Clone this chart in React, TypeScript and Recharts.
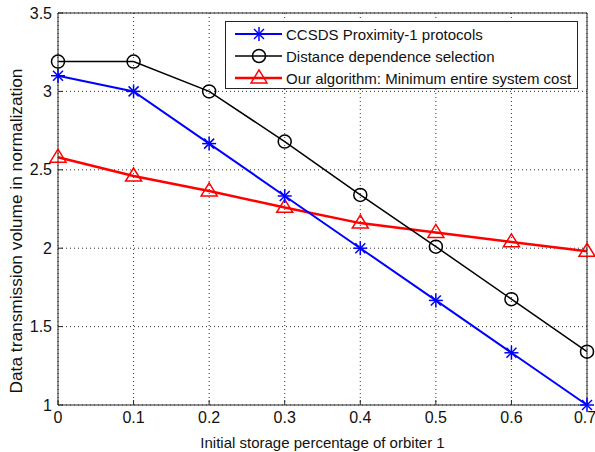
import React from "react";
import {
  LineChart,
  Line,
  XAxis,
  YAxis,
  CartesianGrid,
} from "recharts";

const xValues = [0, 0.1, 0.2, 0.3, 0.4, 0.5, 0.6, 0.7];
const ccsds = [3.1, 3.0, 2.667, 2.333, 2.0, 1.667, 1.333, 1.0];
const distance = [3.19, 3.19, 3.0, 2.68, 2.34, 2.01, 1.675, 1.34];
const ours = [2.58, 2.46, 2.365, 2.26, 2.16, 2.1, 2.04, 1.98];

const xTicks = [0, 0.1, 0.2, 0.3, 0.4, 0.5, 0.6, 0.7];
const yTicks = [1, 1.5, 2, 2.5, 3, 3.5];

const seriesNames = [
  "CCSDS Proximity-1 protocols",
  "Distance dependence selection",
  "Our algorithm: Minimum entire system cost",
];

const data = xValues.map((x, i) => ({
  x,
  ccsds: ccsds[i],
  distance: distance[i],
  ours: ours[i],
}));

const FONT = "'Liberation Sans', Arial, Helvetica, sans-serif";
const AXIS = "#262626";

const Asterisk = ({ cx, cy, color }: { cx: number; cy: number; color: string }) => {
  const r = 7;
  const d = 5;
  return (
    <g stroke={color} strokeWidth={1.5}>
      <line x1={cx - r} y1={cy} x2={cx + r} y2={cy} />
      <line x1={cx} y1={cy - r} x2={cx} y2={cy + r} />
      <line x1={cx - d} y1={cy - d} x2={cx + d} y2={cy + d} />
      <line x1={cx - d} y1={cy + d} x2={cx + d} y2={cy - d} />
    </g>
  );
};

const Circle = ({ cx, cy, color }: { cx: number; cy: number; color: string }) => (
  <circle cx={cx} cy={cy} r={6.5} fill="none" stroke={color} strokeWidth={1.5} />
);

const Triangle = ({ cx, cy, color }: { cx: number; cy: number; color: string }) => {
  const h = 13;
  const w = 8;
  const pts = `${cx},${cy - h * 0.62} ${cx - w},${cy + h * 0.38} ${cx + w},${cy + h * 0.38}`;
  return <polygon points={pts} fill="none" stroke={color} strokeWidth={1.5} />;
};

const markers = [
  { color: "#0000ff", Marker: Asterisk, width: 2 },
  { color: "#000000", Marker: Circle, width: 1.5 },
  { color: "#ff0000", Marker: Triangle, width: 2.5 },
];

const LegendBox = () => (
  <div
    style={{
      position: "absolute",
      left: 225,
      top: 21,
      width: 353,
      height: 68,
      border: "1px solid #262626",
      background: "#fff",
      fontFamily: FONT,
      fontSize: 15,
      color: "#111",
      boxSizing: "border-box",
      paddingTop: 1,
      whiteSpace: "nowrap",
    }}
  >
    {seriesNames.map((name, i) => {
      const { color, Marker, width } = markers[i];
      return (
        <div key={name} style={{ display: "flex", alignItems: "center", height: 22 }}>
          <svg width={58} height={20} style={{ marginLeft: 8 }}>
            <line x1={1} y1={10} x2={48} y2={10} stroke={color} strokeWidth={width} />
            <Marker cx={25} cy={10} color={color} />
          </svg>
          <span style={{ marginLeft: -6 }}>{name}</span>
        </div>
      );
    })}
  </div>
);

const makeDot = (i: number) => (props: any) => {
  const { Marker, color } = markers[i];
  if (props.cx == null || props.cy == null) return <g key={`e${i}-${props.index}`} />;
  return (
    <g key={`d${i}-${props.index}`}>
      <Marker cx={props.cx} cy={props.cy} color={color} />
    </g>
  );
};

const YLabel = () => (
  <text
    transform="translate(16,231) rotate(-90)"
    textAnchor="middle"
    dominantBaseline="central"
    fill="#111"
    fontSize={16}
    fontFamily={FONT}
    textLength={325}
    lengthAdjust="spacingAndGlyphs"
  >
    Data transmission volume in normalization
  </text>
);

export default function App() {
  return (
    <div style={{ position: "absolute", left: 0, top: 0, width: 595, height: 452, background: "#fff" }}>
      <LineChart
        width={595}
        height={452}
        data={data}
        margin={{ top: 13, right: 8, bottom: 0, left: 0 }}
      >
        <CartesianGrid stroke="#333" strokeDasharray="1 3" />
        <XAxis
          dataKey="x"
          type="number"
          domain={[0, 0.7]}
          ticks={xTicks}
          height={47}
          tickSize={-5}
          tickMargin={12}
          stroke={AXIS}
          tick={{ fill: "#111", fontSize: 16, fontFamily: FONT }}
          label={{
            value: "Initial storage percentage of orbiter 1",
            position: "insideBottom",
            offset: 4,
            fill: "#111",
            fontSize: 15,
            fontFamily: FONT,
          }}
        />
        <XAxis
          xAxisId="top"
          dataKey="x"
          type="number"
          orientation="top"
          mirror
          domain={[0, 0.7]}
          ticks={xTicks}
          tick={false}
          tickSize={5}
          stroke={AXIS}
        />
        <YAxis
          type="number"
          domain={[1, 3.5]}
          ticks={yTicks}
          width={58}
          tickSize={-5}
          tickMargin={11}
          stroke={AXIS}
          tick={{ fill: "#111", fontSize: 16, fontFamily: FONT }}
          label={{ content: () => <YLabel /> }}
        />
        <YAxis
          yAxisId="right"
          type="number"
          orientation="right"
          mirror
          domain={[1, 3.5]}
          ticks={yTicks}
          tick={false}
          tickSize={5}
          stroke={AXIS}
        />
        <Line
          dataKey="ours"
          stroke="#ff0000"
          strokeWidth={2.5}
          dot={makeDot(2)}
          isAnimationActive={false}
        />
        <Line
          dataKey="distance"
          stroke="#000000"
          strokeWidth={1.5}
          dot={makeDot(1)}
          isAnimationActive={false}
        />
        <Line
          xAxisId="top"
          yAxisId="right"
          dataKey="ccsds"
          stroke="#0000ff"
          strokeWidth={2}
          dot={makeDot(0)}
          isAnimationActive={false}
        />
      </LineChart>
      <LegendBox />
    </div>
  );
}
